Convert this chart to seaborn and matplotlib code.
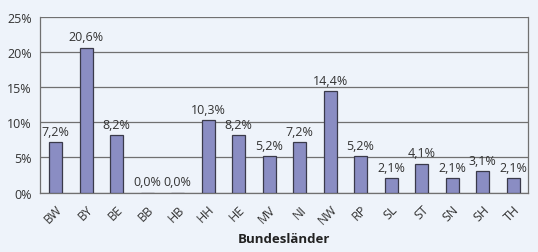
import matplotlib
matplotlib.use("Agg")
import matplotlib.pyplot as plt
import seaborn as sns
import pandas as pd
import numpy as np

laender = ["BW", "BY", "BE", "BB", "HB", "HH", "HE", "MV", "NI", "NW",
           "RP", "SL", "ST", "SN", "SH", "TH"]
anteil = [7.2, 20.6, 8.2, 0.0, 0.0, 10.3, 8.2, 5.2, 7.2, 14.4,
          5.2, 2.1, 4.1, 2.1, 3.1, 2.1]

df = pd.DataFrame({"Land": laender, "Anteil": anteil})

bg = "#eef3fa"
sns.set_style("white")
plt.rcParams["font.family"] = ["Open Sans", "DejaVu Sans"]

fig, ax = plt.subplots(figsize=(5.38, 2.53), dpi=100)
fig.patch.set_facecolor(bg)
ax.set_facecolor(bg)

sns.barplot(x="Land", y="Anteil", data=df, color="#8a8dc3", width=0.43,
            edgecolor="#3a3a4a", linewidth=0.9, saturation=1, ax=ax, zorder=3)

for i, v in enumerate(anteil):
    ax.text(i, v + 0.6, f"{v:.1f}%".replace(".", ","), ha="center", va="bottom",
            fontsize=9, color="#333333", zorder=4)

ax.set_ylim(0, 25)
ax.set_xlim(-0.5, len(laender) - 0.5)
ax.set_yticks(range(0, 26, 5))
ax.set_yticklabels([f"{t}%" for t in range(0, 26, 5)], fontsize=9, color="#333333")
ax.yaxis.grid(True, color="#707070", linewidth=0.9, zorder=0)
ax.set_axisbelow(True)

ax.set_xticks(range(len(laender)))
ax.set_xticklabels(laender, rotation=45, ha="right", rotation_mode="anchor",
                   fontsize=9, color="#333333")
ax.set_xticks(np.arange(-0.5, len(laender), 1), minor=True)
ax.tick_params(axis="x", which="major", length=0, pad=7)
ax.tick_params(axis="x", which="minor", length=4, color="#555555", width=0.9, direction="out")
ax.tick_params(axis="y", length=4, color="#555555", width=0.9, direction="out", pad=2)

for s in ["left", "bottom", "right", "top"]:
    ax.spines[s].set_color("#707070")
    ax.spines[s].set_linewidth(0.9)
ax.spines["top"].set_visible(False)

ax.set_xlabel("Bundesländer", fontsize=9.5, fontweight="bold", color="#222222", labelpad=4)
ax.set_ylabel("")

plt.subplots_adjust(left=0.075, right=0.982, top=0.93, bottom=0.235)
fig.savefig("out.png", dpi=100, facecolor=bg)
